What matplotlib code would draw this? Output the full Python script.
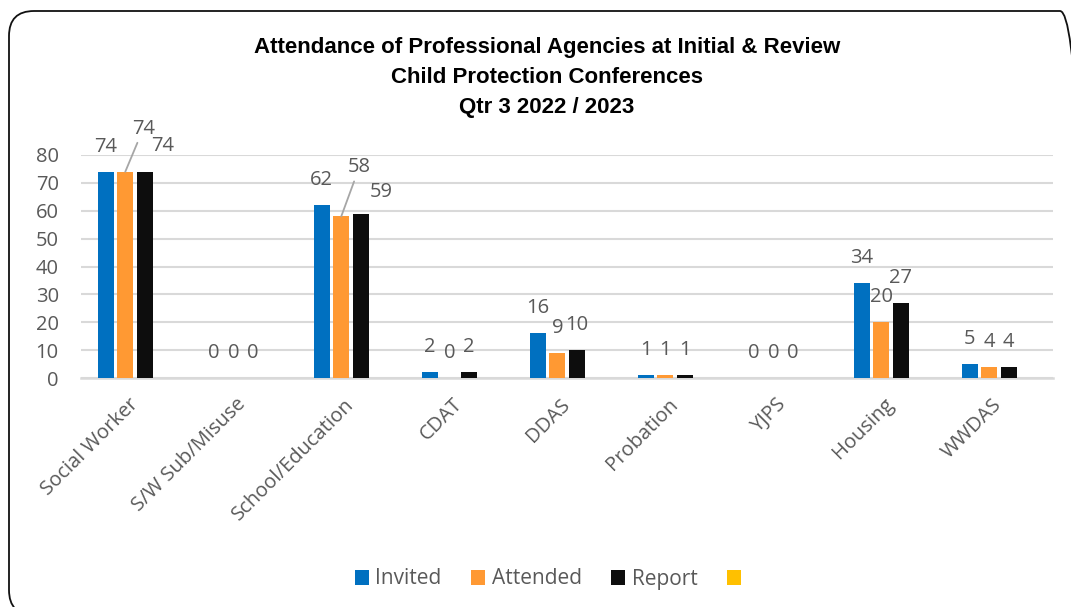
import numpy as np
import matplotlib
matplotlib.use("Agg")
import matplotlib.pyplot as plt
from matplotlib.patches import FancyBboxPatch

# chart data
categories = ["Social Worker", "S/W Sub/Misuse", "School/Education", "CDAT", "DDAS",
              "Probation", "YJPS", "Housing", "WWDAS"]
invited = [74, 0, 62, 2, 16, 1, 0, 34, 5]
attended = [74, 0, 58, 0, 9, 1, 0, 20, 4]
report = [74, 0, 59, 2, 10, 1, 0, 27, 4]
other = [0, 0, 0, 0, 0, 0, 0, 0, 0]  # empty 4th series, only shows in legend

series_names = ["Invited", "Attended", "Report", ""]
colors = ["#0070C0", "#FF9933", "#0D0D0D", "#FFC000"]
text_grey = "#595959"

plt.rcParams["font.family"] = ["Open Sans", "DejaVu Sans"]

fig = plt.figure(figsize=(10.71, 6.07), dpi=100)
ax = fig.add_axes([81 / 1071, 1 - 378 / 607, 972 / 1071, 223 / 607])

x = np.arange(len(categories))
all_series = [invited, attended, report, other]
step = 0.18
width = 0.148
bars = []
for i, vals in enumerate(all_series):
    b = ax.bar(x + (i - 1.5) * step, vals, width, color=colors[i], linewidth=0, zorder=3)
    bars.append(b)

# data labels (pixel offsets from top of bar); a few were moved by hand in the original
moved = {(0, 1): (18, 43, True), (0, 2): (18, 26, False),
         (2, 1): (18, 49, True), (2, 2): (21, 22, False)}
for i, vals in enumerate(all_series[:3]):
    for k, v in enumerate(vals):
        dx, dy, leader = moved.get((k, i), (0, 25, False))
        props = None
        if leader:
            props = dict(arrowstyle="-", color="#A6A6A6", lw=1.3, shrinkA=1, shrinkB=0)
        ax.annotate(str(v), (x[k] + (i - 1.5) * step, v), xytext=(dx, dy),
                    textcoords="offset pixels", ha="center", va="center",
                    fontsize=14.5, color=text_grey, arrowprops=props, zorder=4)

ax.set_xlim(-0.5, len(categories) - 0.5)
ax.set_ylim(0, 80)
ax.set_yticks(range(0, 81, 10))
ax.yaxis.grid(True, color="#D9D9D9", lw=1.5, zorder=0)
ax.set_axisbelow(True)
for s in ["top", "right", "left"]:
    ax.spines[s].set_visible(False)
ax.spines["bottom"].set_color("#D9D9D9")
ax.spines["bottom"].set_linewidth(1.8)
ax.tick_params(axis="y", length=0, pad=16, labelsize=14.5, labelcolor=text_grey)
ax.tick_params(axis="x", length=0, pad=17, labelsize=14.5, labelcolor=text_grey)
ax.set_xticks(x, categories, rotation=45, ha="right", va="center", rotation_mode="anchor")

fig.text(547 / 1071, 1 - 37 / 607,
         "Attendance of Professional Agencies at Initial & Review\nChild Protection Conferences\nQtr 3 2022 / 2023",
         ha="center", va="top", fontsize=16, fontweight="bold", color="black",
         family="Liberation Sans", linespacing=1.55)

fig.legend([b[0] for b in bars], series_names, loc="center",
           bbox_to_anchor=(551 / 1071, 1 - 579 / 607), ncol=4, frameon=False,
           fontsize=15, labelcolor=text_grey, handlelength=0.7, handleheight=0.7,
           handletextpad=0.3, columnspacing=1.4)

# rounded chart border, running off the right and bottom edges
border = FancyBboxPatch((0.09, -0.08), 10.76, 6.04, boxstyle="round,pad=0,rounding_size=0.25",
                        transform=fig.dpi_scale_trans, fill=False, ec="#111111", lw=1.3)
fig.add_artist(border)

fig.savefig("out.png", dpi=100)
